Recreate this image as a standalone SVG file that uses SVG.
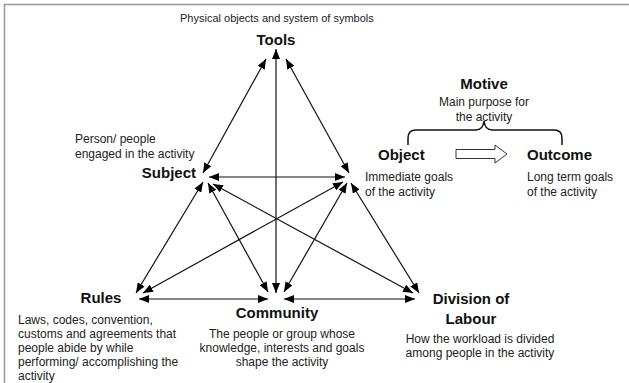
<svg xmlns="http://www.w3.org/2000/svg" width="629" height="383" viewBox="0 0 629 383">
  <style>
    .lbl { font-family: "Liberation Sans", Arial, sans-serif; font-size: 15px; font-weight: bold; fill: #111; }
    .note { font-family: "Liberation Sans", Arial, sans-serif; font-size: 12px; fill: #222; }
    .mid { text-anchor: middle; }
    .end { text-anchor: end; }
    .link { stroke: #111; stroke-width: 1.2; fill: none; marker-start: url(#head); marker-end: url(#head); }
  </style>
  <defs>
    <marker id="head" viewBox="0 0 10 8" refX="10" refY="4" markerWidth="10" markerHeight="8" markerUnits="userSpaceOnUse" orient="auto-start-reverse">
      <path d="M0,0 L10,4 L0,8 Z" fill="#000"/>
    </marker>
  </defs>

  <rect width="629" height="383" fill="#fff"/>
  <!-- frame -->
  <path d="M4.5,383 V4.5 H629" fill="none" stroke="#999" stroke-width="1.5"/>

  <!-- connectors between the six elements -->
  <g id="connectors">
    <line class="link" x1="266" y1="59" x2="203" y2="173"/>
    <line class="link" x1="276" y1="49" x2="276" y2="293"/>
    <line class="link" x1="286" y1="59" x2="349" y2="173"/>
    <line class="link" x1="209" y1="177" x2="345" y2="177"/>
    <line class="link" x1="203" y1="182" x2="136" y2="293"/>
    <line class="link" x1="208" y1="183" x2="268" y2="292"/>
    <line class="link" x1="213" y1="184" x2="413" y2="293"/>
    <line class="link" x1="343" y1="182" x2="143" y2="293"/>
    <line class="link" x1="347" y1="183" x2="284" y2="292"/>
    <line class="link" x1="351" y1="183" x2="419" y2="293"/>
    <line class="link" x1="139" y1="299" x2="268" y2="299"/>
    <line class="link" x1="284" y1="299" x2="415" y2="299"/>
  </g>

  <g id="tools">
    <text class="note" x="180" y="22" style="font-size:11px">Physical objects and system of symbols</text>
    <text class="lbl mid" x="276" y="45">Tools</text>
  </g>

  <g id="subject">
    <text class="note" x="75" y="143">Person/ people</text>
    <text class="note" x="75" y="158">engaged in the activity</text>
    <text class="lbl end" x="196" y="178">Subject</text>
  </g>

  <g id="object">
    <text class="lbl" x="378" y="160">Object</text>
    <text class="note" x="365" y="181">Immediate goals</text>
    <text class="note" x="365" y="196">of the activity</text>
  </g>

  <g id="motive">
    <text class="lbl mid" x="484" y="89">Motive</text>
    <text class="note mid" x="484" y="106">Main purpose for</text>
    <text class="note mid" x="484" y="121">the activity</text>
    <path d="M408,145 V138 Q408,130 416,130 H476 Q483,130 484,121 Q485,130 492,130 H554 Q562,130 562,138 V145" fill="none" stroke="#111" stroke-width="1.5"/>
  </g>

  <g id="transition">
    <path d="M456,149.5 H495 V145 L507,154 L495,163 V158.5 H456 Z" fill="#fff" stroke="#333" stroke-width="1"/>
  </g>

  <g id="outcome">
    <text class="lbl" x="527" y="160">Outcome</text>
    <text class="note" x="527" y="181">Long term goals</text>
    <text class="note" x="527" y="196">of the activity</text>
  </g>

  <g id="rules">
    <text class="lbl mid" x="101" y="303">Rules</text>
    <text class="note" x="18" y="324">Laws, codes, convention,</text>
    <text class="note" x="18" y="338">customs and agreements that</text>
    <text class="note" x="18" y="352">people abide by while</text>
    <text class="note" x="18" y="366">performing/ accomplishing the</text>
    <text class="note" x="18" y="380">activity</text>
  </g>

  <g id="community">
    <text class="lbl mid" x="277" y="318">Community</text>
    <text class="note mid" x="282" y="338">The people or group whose</text>
    <text class="note mid" x="282" y="352">knowledge, interests and goals</text>
    <text class="note mid" x="282" y="366">shape the activity</text>
  </g>

  <g id="division">
    <text class="lbl mid" x="471" y="304">Division of</text>
    <text class="lbl mid" x="471" y="324">Labour</text>
    <text class="note mid" x="480" y="343">How the workload is divided</text>
    <text class="note mid" x="480" y="357">among people in the activity</text>
  </g>
</svg>
